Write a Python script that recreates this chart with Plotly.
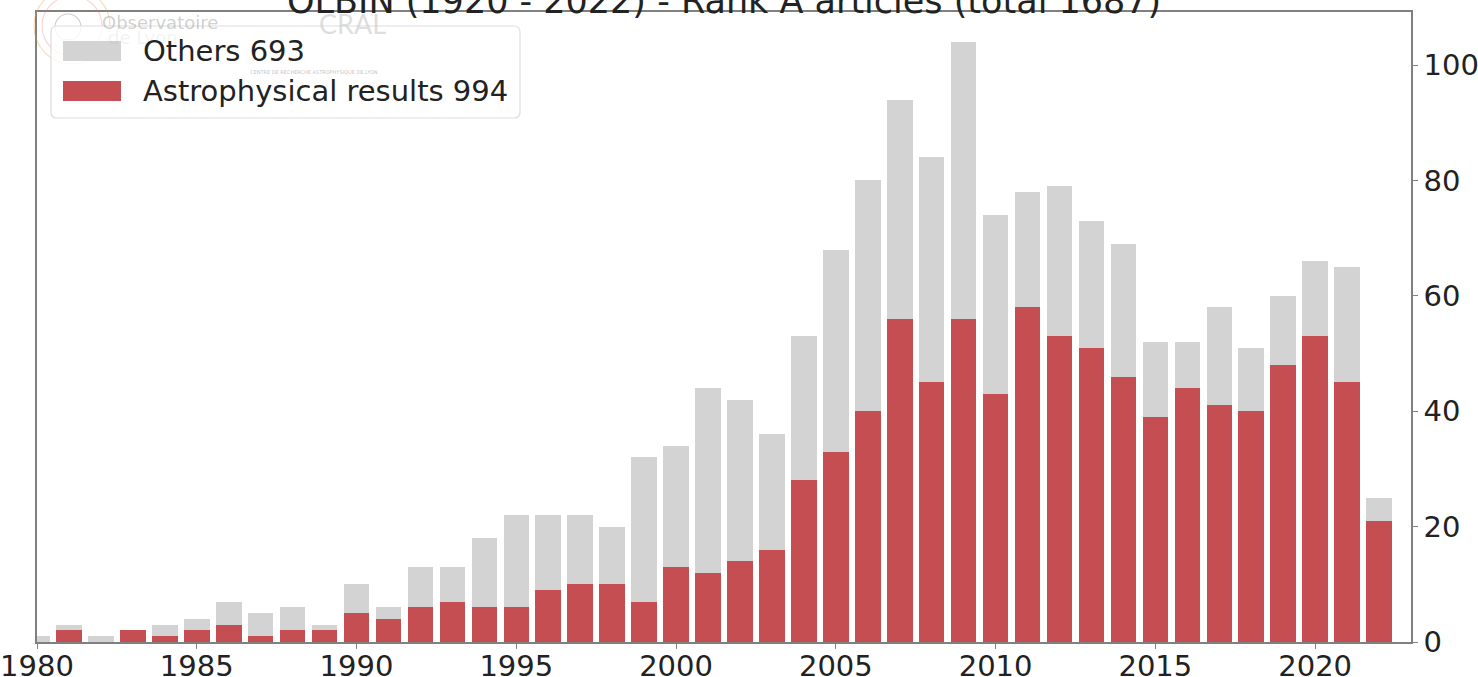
import plotly.graph_objects as go

# Rank A articles per year, split by type
years = list(range(1980, 2023))
astro = [0, 2, 0, 2, 1, 2, 3, 1, 2, 2,
         5, 4, 6, 7, 6, 6, 9, 10, 10, 7,
         13, 12, 14, 16, 28, 33, 40, 56, 45, 56,
         43, 58, 53, 51, 46, 39, 44, 41, 40, 48,
         53, 45, 21]
others = [1, 1, 1, 0, 2, 2, 4, 4, 4, 1,
          5, 2, 7, 6, 12, 16, 13, 12, 10, 25,
          21, 32, 28, 20, 25, 35, 40, 38, 39, 48,
          31, 20, 26, 22, 23, 13, 8, 17, 11, 12,
          13, 20, 4]

series_names = ["Others", "Astrophysical results"]
series_totals = [693, 994]
series_colors = ["#d3d3d3", "#c44e52"]

title_text = "OLBIN (1920 - 2022) - Rank A articles (total 1687)"
x_ticks = list(range(1980, 2021, 5))
y_ticks = list(range(0, 101, 20))

FONT = "DejaVu Sans"
W, H = 1478, 677
L, R, T, B = 37, 67, 12, 35
PW, PH = W - L - R, H - T - B


def px(x):
    return (x - L) / PW


def py(y):
    return (H - B - y) / PH


fig = go.Figure()
fig.add_trace(go.Bar(x=years, y=astro, width=0.8, marker_color=series_colors[1],
                     marker_line_width=0, name=series_names[1]))
fig.add_trace(go.Bar(x=years, y=others, width=0.8, marker_color=series_colors[0],
                     marker_line_width=0, name=series_names[0]))

axis_col = "#808080"
fig.update_layout(
    width=W, height=H,
    margin=dict(l=L, r=R, t=T, b=B, autoexpand=False),
    barmode="stack",
    showlegend=False,
    plot_bgcolor="white",
    paper_bgcolor="white",
    font=dict(family=FONT, size=29, color="#222222"),
    xaxis=dict(range=[1980, 2023], tickvals=x_ticks, ticks="outside", ticklen=5,
               tickwidth=1.2, tickcolor=axis_col, showline=True, linecolor=axis_col,
               linewidth=1.5, mirror=True, showgrid=False, zeroline=False,
               automargin=False, ticklabelstandoff=-8,
               tickfont=dict(family=FONT, size=29, color="#222222")),
    yaxis=dict(range=[0, 109.2], tickvals=y_ticks, side="right", ticks="outside",
               ticklen=5, tickwidth=1.2, tickcolor=axis_col, showline=True,
               linecolor=axis_col, linewidth=1.5, mirror=True, showgrid=False,
               zeroline=False, automargin=False,
               tickfont=dict(family=FONT, size=29, color="#222222")),
)

shapes = []
annotations = []

# faint institute logo in the corner
for cx, cy, r, col in [(72, 26, 38, "rgba(240,150,60,0.35)"),
                       (72, 26, 30, "rgba(240,120,120,0.30)"),
                       (68, 27, 13, "rgba(120,120,120,0.35)")]:
    shapes.append(dict(type="circle", xref="paper", yref="paper",
                       x0=px(cx - r), x1=px(cx + r), y0=py(cy + r), y1=py(cy - r),
                       line=dict(color=col, width=1.2), fillcolor="rgba(0,0,0,0)",
                       layer="above"))
annotations.append(dict(text="Observatoire", xref="paper", yref="paper",
                        x=px(100), y=py(22), xanchor="left", yanchor="middle",
                        showarrow=False, font=dict(family=FONT, size=18,
                                                   color="rgba(150,150,150,0.45)")))
annotations.append(dict(text="de Lyon", xref="paper", yref="paper",
                        x=px(106), y=py(38), xanchor="left", yanchor="middle",
                        showarrow=False, font=dict(family=FONT, size=18,
                                                   color="rgba(150,150,150,0.12)")))
annotations.append(dict(text="CRAL", xref="paper", yref="paper",
                        x=px(352), y=py(23), xanchor="center", yanchor="middle",
                        showarrow=False, font=dict(family="Lato", size=27,
                                                   color="rgba(200,200,200,0.6)")))
annotations.append(dict(text="CENTRE DE RECHERCHE ASTROPHYSIQUE DE LYON", xref="paper",
                        yref="paper", x=px(314), y=py(72), xanchor="center",
                        yanchor="middle", showarrow=False,
                        font=dict(family=FONT, size=5, color="rgba(150,150,150,0.6)")))

# legend frame with rounded corners
x0, x1, y0, y1, rr = px(51), px(520), py(26), py(118), 6
rx, ry = rr / PW, rr / PH
path = (f"M {x0+rx},{y0} L {x1-rx},{y0} Q {x1},{y0} {x1},{y0-ry} "
        f"L {x1},{y1+ry} Q {x1},{y1} {x1-rx},{y1} L {x0+rx},{y1} "
        f"Q {x0},{y1} {x0},{y1+ry} L {x0},{y0-ry} Q {x0},{y0} {x0+rx},{y0} Z")
shapes.append(dict(type="path", xref="paper", yref="paper", path=path,
                   fillcolor="rgba(255,255,255,0.8)", line=dict(color="#dddddd", width=1.2),
                   layer="above"))

# legend entries
for i, (name, tot, col) in enumerate(zip(series_names, series_totals, series_colors)):
    yc = 51 + 40 * i
    shapes.append(dict(type="rect", xref="paper", yref="paper",
                       x0=px(63), x1=px(121), y0=py(yc + 10), y1=py(yc - 10),
                       fillcolor=col, line=dict(width=0), layer="above"))
    annotations.append(dict(text=f"{name} {tot}", xref="paper", yref="paper",
                            x=px(141), y=py(yc), xanchor="left", yanchor="middle",
                            showarrow=False,
                            font=dict(family=FONT, size=29, color="#222222")))

# title, partly above the top of the page
annotations.append(dict(text=title_text, xref="paper", yref="paper", x=0.5, y=py(23),
                        xanchor="center", yanchor="bottom", showarrow=False,
                        font=dict(family=FONT, size=35, color="#222222")))

fig.update_layout(shapes=shapes, annotations=annotations)
fig.write_html("out.html")
